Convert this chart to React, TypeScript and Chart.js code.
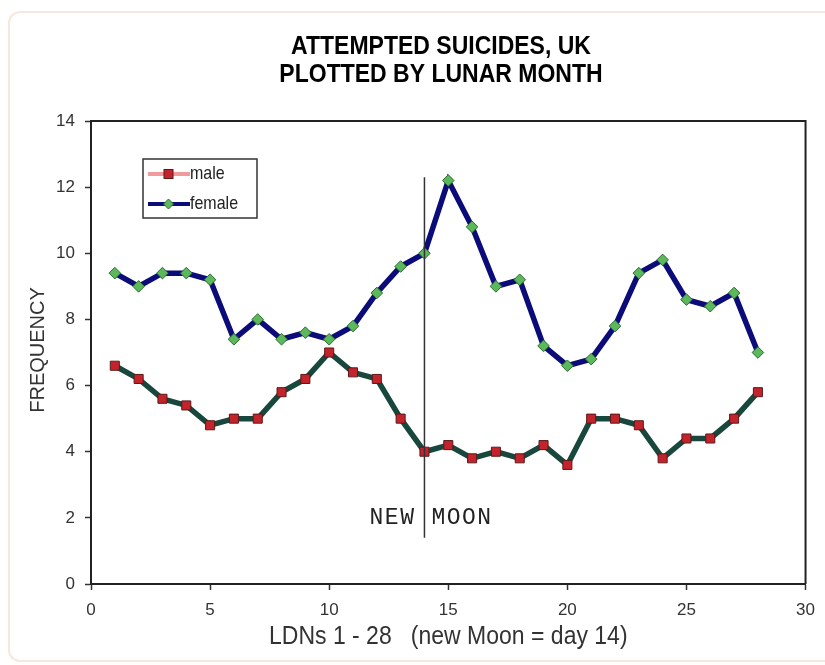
import React, { useEffect, useRef } from "react";
import { Chart, registerables } from "chart.js";

Chart.register(...registerables);

const TITLE_LINES = ["ATTEMPTED SUICIDES, UK", "PLOTTED BY LUNAR MONTH"];
const X_TITLE = "LDNs 1 - 28   (new Moon = day 14)";
const Y_TITLE = "FREQUENCY";
const SERIES_LABELS = ["male", "female"];
const DAYS = [1, 2, 3, 4, 5, 6, 7, 8, 9, 10, 11, 12, 13, 14, 15, 16, 17, 18, 19, 20, 21, 22, 23, 24, 25, 26, 27, 28];
const MALE = [6.6, 6.2, 5.6, 5.4, 4.8, 5.0, 5.0, 5.8, 6.2, 7.0, 6.4, 6.2, 5.0, 4.0, 4.2, 3.8, 4.0, 3.8, 4.2, 3.6, 5.0, 5.0, 4.8, 3.8, 4.4, 4.4, 5.0, 5.8];
const FEMALE = [9.4, 9.0, 9.4, 9.4, 9.2, 7.4, 8.0, 7.4, 7.6, 7.4, 7.8, 8.8, 9.6, 10.0, 12.2, 10.8, 9.0, 9.2, 7.2, 6.6, 6.8, 7.8, 9.4, 9.8, 8.6, 8.4, 8.8, 7.0];
const X_RANGE = [0, 30];
const X_STEP = 5;
const Y_RANGE = [0, 14];
const Y_STEP = 2;
const NEW_MOON_DAY = 14;
const MOON_LINE_RANGE = [1.4, 12.3];
const MOON_TEXT_VALUE = 2;
const MOON_TEXT = ["NEW", "MOON"];

const SANS = '"Liberation Sans", Arial, sans-serif';
const MONO = '"Liberation Mono", "Courier New", monospace';

function stretchedText(ctx: CanvasRenderingContext2D, text: string, x: number, y: number, sy: number) {
  ctx.save();
  ctx.translate(x, y);
  ctx.scale(1, sy);
  ctx.fillText(text, 0, 0);
  ctx.restore();
}

const overlayPlugin = {
  id: "overlay",
  afterDraw(chart: any) {
    const ctx = chart.ctx as CanvasRenderingContext2D;
    const { left, right, top, bottom } = chart.chartArea;
    const xs = chart.scales.x;
    const ys = chart.scales.y;
    ctx.save();

    // plot box top/right
    ctx.strokeStyle = "#222";
    ctx.lineWidth = 2;
    ctx.beginPath();
    ctx.moveTo(left, top);
    ctx.lineTo(right, top);
    ctx.lineTo(right, bottom);
    ctx.stroke();

    // new moon line
    const mx = xs.getPixelForValue(NEW_MOON_DAY);
    ctx.strokeStyle = "#333";
    ctx.lineWidth = 1.5;
    ctx.beginPath();
    ctx.moveTo(mx, ys.getPixelForValue(MOON_LINE_RANGE[1]));
    ctx.lineTo(mx, ys.getPixelForValue(MOON_LINE_RANGE[0]));
    ctx.stroke();

    ctx.fillStyle = "#222";
    ctx.font = `23px ${MONO}`;
    (ctx as any).letterSpacing = "1.5px";
    ctx.textBaseline = "middle";
    const ty = ys.getPixelForValue(MOON_TEXT_VALUE);
    ctx.textAlign = "right";
    stretchedText(ctx, MOON_TEXT[0], mx - 9, ty, 1.0);
    ctx.textAlign = "left";
    stretchedText(ctx, MOON_TEXT[1], mx + 7, ty, 1.0);
    (ctx as any).letterSpacing = "0px";

    // legend
    const lx = 143, ly = 159, lw = 114, lh = 59;
    ctx.strokeStyle = "#333";
    ctx.lineWidth = 1.5;
    ctx.strokeRect(lx, ly, lw, lh);
    const rows = [ly + 15, ly + 45];
    const ds = chart.data.datasets;
    // male
    ctx.strokeStyle = "#f29a9a";
    ctx.lineWidth = 4;
    ctx.beginPath();
    ctx.moveTo(lx + 5, rows[0]);
    ctx.lineTo(lx + 47, rows[0]);
    ctx.stroke();
    ctx.fillStyle = "#c4232b";
    ctx.strokeStyle = "#5a1a1a";
    ctx.lineWidth = 1;
    ctx.fillRect(lx + 21, rows[0] - 4.5, 9, 9);
    ctx.strokeRect(lx + 21, rows[0] - 4.5, 9, 9);
    // female
    ctx.strokeStyle = "#0b0b7a";
    ctx.lineWidth = 4;
    ctx.beginPath();
    ctx.moveTo(lx + 5, rows[1]);
    ctx.lineTo(lx + 47, rows[1]);
    ctx.stroke();
    ctx.fillStyle = "#5cb85c";
    ctx.strokeStyle = "#2d6b2d";
    ctx.lineWidth = 1;
    ctx.beginPath();
    const cx = lx + 25.5;
    ctx.moveTo(cx, rows[1] - 5);
    ctx.lineTo(cx + 5, rows[1]);
    ctx.lineTo(cx, rows[1] + 5);
    ctx.lineTo(cx - 5, rows[1]);
    ctx.closePath();
    ctx.fill();
    ctx.stroke();
    ctx.fillStyle = "#222";
    ctx.font = `16px ${SANS}`;
    ctx.textAlign = "left";
    ctx.textBaseline = "middle";
    stretchedText(ctx, ds[0].label, lx + 47, rows[0], 1.2);
    stretchedText(ctx, ds[1].label, lx + 47, rows[1], 1.2);

    // title
    ctx.fillStyle = "#000";
    ctx.font = `bold 23px ${SANS}`;
    ctx.textAlign = "center";
    ctx.textBaseline = "middle";
    stretchedText(ctx, TITLE_LINES[0], 441, 47, 1.15);
    stretchedText(ctx, TITLE_LINES[1], 441, 75, 1.15);

    // axis titles
    ctx.fillStyle = "#333";
    ctx.font = `23px ${SANS}`;
    stretchedText(ctx, X_TITLE, (left + right) / 2, 637, 1.1);
    ctx.save();
    ctx.translate(38, 350);
    ctx.rotate(-Math.PI / 2);
    ctx.font = `20px ${SANS}`;
    ctx.fillText(Y_TITLE, 0, 0);
    ctx.restore();

    ctx.restore();
  },
};

export default function App() {
  const ref = useRef<HTMLCanvasElement | null>(null);
  useEffect(() => {
    if (!ref.current) return;
    const chart = new Chart(ref.current, {
      type: "line",
      data: {
        datasets: [
          {
            label: SERIES_LABELS[0],
            data: DAYS.map((d, i) => ({ x: d, y: MALE[i] })),
            borderColor: "#17473d",
            borderWidth: 5.5,
            pointStyle: "rect",
            pointRadius: 6.4,
            pointBackgroundColor: "#c4232b",
            pointBorderColor: "#5a1a1a",
            pointBorderWidth: 1,
            tension: 0,
          },
          {
            label: SERIES_LABELS[1],
            data: DAYS.map((d, i) => ({ x: d, y: FEMALE[i] })),
            borderColor: "#0b0b7a",
            borderWidth: 5.5,
            pointStyle: "rectRot",
            pointRadius: 5.8,
            pointBackgroundColor: "#5cb85c",
            pointBorderColor: "#2d6b2d",
            pointBorderWidth: 1,
            tension: 0,
          },
        ],
      },
      options: {
        animation: false,
        responsive: false,
        devicePixelRatio: 1,
        layout: { padding: { top: 121, right: 17, left: 0, bottom: 0 } },
        plugins: { legend: { display: false }, tooltip: { enabled: false }, title: { display: false } },
        scales: {
          x: {
            type: "linear",
            min: X_RANGE[0],
            max: X_RANGE[1],
            afterFit: (s: any) => { s.height = 81; },
            ticks: { stepSize: X_STEP, color: "#333", font: { family: SANS, size: 17 }, padding: 10, maxRotation: 0 },
            grid: { drawOnChartArea: false, tickLength: 6, color: "#333", tickWidth: 1.5 },
            border: { display: true, color: "#222", width: 2 },
          },
          y: {
            min: Y_RANGE[0],
            max: Y_RANGE[1],
            afterFit: (s: any) => { s.width = 91; },
            ticks: { stepSize: Y_STEP, color: "#333", font: { family: SANS, size: 17 }, padding: 10 },
            grid: { drawOnChartArea: false, tickLength: 6, color: "#333", tickWidth: 1.5 },
            border: { display: true, color: "#222", width: 2 },
          },
        },
      },
      plugins: [overlayPlugin],
    });
    return () => chart.destroy();
  }, []);

  return (
    <div style={{ position: "absolute", left: 0, top: 0, width: 825, height: 665, background: "#fff", overflow: "hidden" }}>
      <div
        style={{
          position: "absolute",
          left: 8,
          top: 11,
          width: 900,
          height: 651,
          borderTop: "2px solid #f7e8de",
          borderLeft: "2px solid #f7e8de",
          borderBottom: "2px solid #f7e8de",
          borderRadius: "12px 0 0 12px",
          boxSizing: "border-box",
        }}
      />
      <canvas ref={ref} width={825} height={665} style={{ position: "absolute", left: 0, top: 0, width: 825, height: 665 }} />
    </div>
  );
}
